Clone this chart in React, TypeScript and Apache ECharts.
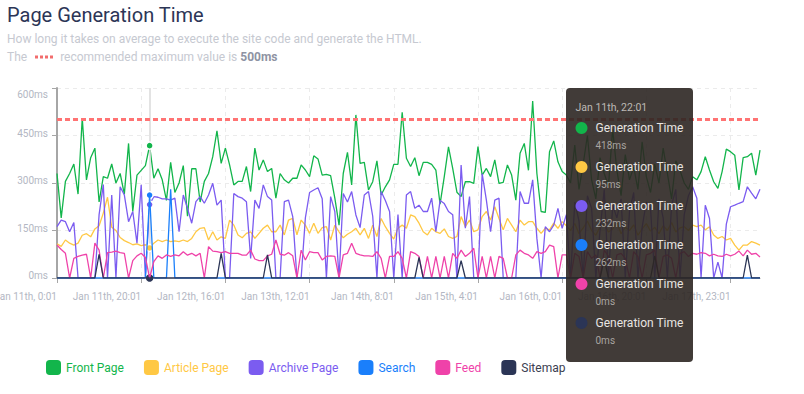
import React, { useEffect, useRef } from "react";
import * as echarts from "echarts";

// ---- data (ms per hourly sample, Jan 11th 0:01 onwards) ----
const frontPage = [
  330, 190, 305, 330, 360, 265, 505, 310, 380, 410, 240, 320, 315, 360, 300, 330, 265, 425, 210, 325,
  340, 355, 418, 315, 345, 310, 245, 365, 270, 300, 355, 195, 345, 345, 240, 305, 330, 383, 465, 362,
  410, 357, 294, 305, 305, 352, 273, 410, 341, 373, 336, 346, 252, 330, 310, 300, 315, 315, 357, 341,
  320, 386, 376, 325, 327, 323, 252, 167, 330, 397, 294, 515, 362, 365, 278, 304, 370, 262, 288, 310,
  359, 359, 523, 378, 352, 380, 323, 365, 365, 359, 341, 233, 320, 414, 346, 271, 257, 304, 304, 299,
  415, 325, 346, 320, 373, 299, 302, 357, 325, 246, 394, 425, 340, 559, 330, 210, 207, 399, 433, 367,
  336, 325, 300, 420, 280, 360, 450, 310, 250, 380, 330, 290, 470, 340, 260, 390, 310, 350, 280, 430,
  320, 270, 360, 300, 410, 330, 250, 370, 340, 300, 280, 320, 310, 336, 383, 341, 304, 283, 336, 407,
  399, 388, 278, 380, 383, 394, 325, 404,
];
const articlePage = [
  108, 100, 120, 110, 104, 110, 135, 140, 130, 155, 165, 205, 255, 160, 150, 128, 118, 112, 105, 108,
  102, 105, 95, 110, 120, 115, 120, 115, 117, 115, 120, 115, 125, 146, 157, 159, 120, 146, 120, 130,
  125, 183, 167, 136, 127, 141, 146, 125, 141, 157, 167, 146, 146, 167, 136, 183, 188, 136, 183, 167,
  141, 173, 141, 159, 162, 120, 167, 146, 127, 138, 146, 157, 136, 157, 125, 167, 131, 188, 162, 141,
  123, 157, 167, 157, 199, 194, 173, 146, 136, 157, 146, 141, 155, 131, 125, 131, 194, 162, 183, 146,
  152, 194, 210, 183, 225, 188, 152, 188, 167, 146, 183, 167, 178, 178, 157, 141, 157, 152, 173, 157,
  178, 165, 150, 172, 140, 158, 180, 150, 135, 162, 170, 145, 155, 175, 140, 160, 150, 168, 135, 155,
  172, 148, 160, 140, 165, 150, 175, 145, 158, 162, 150, 167, 162, 167, 152, 162, 136, 125, 131, 120,
  125, 104, 88, 104, 104, 115, 110, 104,
];
const archivePage = [
  162, 183, 178, 146, 175, 0, 0, 0, 0, 0, 200, 295, 0, 262, 0, 288, 262, 178, 210, 110,
  294, 0, 232, 257, 255, 250, 250, 246, 252, 146, 262, 220, 173, 241, 257, 236, 262, 299, 230, 246,
  0, 0, 267, 257, 252, 241, 62, 246, 220, 294, 257, 246, 0, 0, 241, 246, 194, 0, 0, 190,
  270, 278, 285, 250, 0, 257, 210, 0, 267, 240, 273, 199, 159, 262, 273, 195, 0, 273, 245, 210,
  0, 200, 0, 262, 273, 220, 230, 210, 210, 252, 146, 245, 235, 210, 200, 0, 357, 157, 257, 0,
  0, 330, 246, 146, 246, 252, 0, 0, 0, 0, 273, 236, 236, 310, 125, 0, 162, 146, 167, 220,
  157, 200, 0, 240, 180, 0, 260, 220, 0, 150, 280, 0, 230, 190, 250, 0, 210, 270, 0, 160,
  240, 220, 0, 250, 190, 0, 230, 280, 0, 200, 260, 288, 252, 0, 230, 188, 0, 50, 0, 170,
  225, 230, 236, 241, 288, 268, 250, 280,
];
const search = [
  0, 0, 0, 0, 0, 0, 0, 0, 0, 0, 0, 0, 0, 0, 0, 0, 0, 0, 0, 0,
  0, 0, 262, 0, 0, 0, 0, 280, 0, 0, 0, 0, 0, 0, 0, 0, 0, 0, 0, 0,
  0, 0, 0, 0, 0, 0, 0, 0, 0, 0, 0, 0, 0, 0, 0, 0, 0, 0, 0, 0,
  0, 0, 0, 0, 0, 0, 0, 0, 0, 0, 0, 0, 0, 0, 0, 0, 0, 0, 0, 0,
  0, 0, 0, 0, 0, 0, 0, 0, 0, 0, 0, 0, 0, 0, 0, 0, 0, 0, 0, 0,
  0, 0, 0, 0, 0, 0, 0, 0, 0, 0, 0, 0, 0, 0, 0, 0, 0, 0, 0, 0,
  0, 0, 0, 0, 0, 0, 0, 0, 0, 0, 0, 0, 0, 0, 0, 0, 0, 0, 0, 0,
  0, 0, 0, 0, 0, 0, 0, 0, 0, 0, 0, 0, 0, 0, 0, 0, 0, 0, 0, 0,
  0, 0, 0, 0, 0, 0, 0, 0,
];
const feed = [
  104, 90, 78, 0, 62, 68, 72, 75, 0, 110, 88, 0, 80, 82, 85, 80, 78, 0, 55, 70,
  78, 65, 0, 52, 70, 62, 73, 68, 73, 70, 83, 72, 78, 70, 78, 0, 99, 85, 83, 80,
  83, 78, 78, 78, 72, 72, 88, 60, 55, 55, 70, 75, 120, 75, 72, 80, 70, 0, 88, 57,
  83, 80, 80, 57, 68, 70, 68, 0, 73, 78, 110, 78, 73, 70, 70, 68, 83, 62, 0, 68,
  68, 83, 62, 0, 83, 78, 68, 0, 68, 0, 68, 0, 68, 0, 78, 62, 88, 68, 78, 94,
  0, 68, 0, 68, 0, 68, 62, 0, 0, 73, 88, 78, 73, 62, 83, 78, 83, 104, 99, 0,
  73, 73, 0, 78, 68, 0, 83, 62, 73, 0, 88, 68, 0, 73, 78, 62, 0, 83, 68, 0,
  73, 78, 88, 0, 68, 73, 62, 0, 78, 83, 68, 78, 75, 80, 78, 70, 75, 70, 68, 75,
  70, 75, 85, 70, 88, 75, 78, 66,
];
const sitemap = [
  0, 0, 0, 0, 0, 0, 0, 0, 0, 0, 75, 0, 0, 0, 0, 0, 0, 0, 0, 0,
  0, 0, 0, 0, 0, 0, 0, 0, 0, 0, 0, 0, 0, 0, 0, 0, 0, 0, 0, 78,
  0, 0, 0, 0, 0, 0, 0, 0, 0, 0, 73, 0, 0, 0, 0, 0, 0, 0, 0, 0,
  0, 0, 0, 0, 0, 0, 0, 0, 0, 0, 0, 0, 0, 0, 0, 0, 0, 0, 0, 0,
  0, 0, 0, 0, 0, 0, 65, 0, 0, 0, 0, 0, 0, 0, 0, 0, 55, 0, 0, 0,
  0, 0, 0, 0, 0, 0, 0, 0, 0, 0, 0, 0, 0, 0, 0, 0, 0, 0, 0, 0,
  0, 0, 0, 0, 0, 0, 0, 0, 0, 0, 60, 0, 0, 0, 0, 0, 0, 0, 0, 0,
  0, 0, 70, 0, 0, 0, 0, 0, 0, 0, 0, 0, 0, 0, 0, 0, 0, 0, 0, 0,
  0, 0, 0, 0, 72, 0, 0, 0,
];

const seriesNames = ["Front Page", "Article Page", "Archive Page", "Search", "Feed", "Sitemap"];
const seriesData = [frontPage, articlePage, archivePage, search, feed, sitemap];
const seriesColors = ["#12b54b", "#ffc844", "#7b5cf0", "#1a7ffb", "#ef42a9", "#2b3556"];
const legendTextColors = ["#12b54b", "#ffc844", "#7b5cf0", "#1a7ffb", "#ef42a9", "#3b4050"];

const xTickLabels = [
  "Jan 11th, 0:01", "Jan 11th, 20:01", "Jan 12th, 16:01", "Jan 13th, 12:01", "Jan 14th, 8:01",
  "Jan 15th, 4:01", "Jan 16th, 0:01", "Jan 16th, 20:01", "Jan 17th, 23:01",
];
const tickStep = 20;
const yMax = 600;
const yStep = 150;
const recommendedMax = 500;
const hoverIndex = 22;
const tooltipLabel = "Generation Time";

function buildCategories(n: number) {
  const out: string[] = [];
  for (let i = 0; i < n; i++) {
    const day = 11 + Math.floor(i / 24);
    out.push(`Jan ${day}th, ${i % 24}:01`);
  }
  return out;
}
const categories = buildCategories(frontPage.length);

const FONT = "Roboto, 'Noto Sans', sans-serif";

export default function App() {
  const ref = useRef<HTMLDivElement>(null);

  useEffect(() => {
    if (!ref.current) return;
    const chart = echarts.init(ref.current, undefined, { renderer: "svg" });
    const isTick = (i: number) => i % tickStep === 0;
    const axisGray = "#a6a6a6";
    const labelGray = "#b3b7c3";

    const tipX = 566;
    const tipY = 88;
    const tooltipEls: any[] = [
      {
        type: "rect",
        z: 100,
        shape: { x: tipX, y: tipY, width: 127, height: 274, r: 4 },
        style: { fill: "rgba(44,38,34,0.9)" },
      },
      {
        type: "text",
        z: 101,
        x: 575.5,
        y: 107,
        style: {
          text: categories[hoverIndex],
          fill: "#bdb9b5",
          font: `10.5px ${FONT}`,
          align: "left",
          verticalAlign: "middle",
          textAlign: "left",
          textVerticalAlign: "middle",
        },
      },
    ];
    seriesData.forEach((d, k) => {
      const cy = 128 + k * 39;
      tooltipEls.push({
        type: "circle",
        z: 101,
        shape: { cx: 581.5, cy, r: 6 },
        style: { fill: seriesColors[k] },
      });
      tooltipEls.push({
        type: "text",
        z: 101,
        x: 595.5,
        y: cy,
        style: {
          text: tooltipLabel,
          fill: "#e8e5e2",
          font: `12px ${FONT}`,
          align: "left",
          verticalAlign: "middle",
          textAlign: "left",
          textVerticalAlign: "middle",
        },
      });
      tooltipEls.push({
        type: "text",
        z: 101,
        x: 595.5,
        y: cy + 17,
        style: {
          text: `${d[hoverIndex]}ms`,
          fill: "#a9a5a1",
          font: `10px ${FONT}`,
          align: "left",
          verticalAlign: "middle",
          textAlign: "left",
          textVerticalAlign: "middle",
        },
      });
    });

    const option: any = {
      animation: false,
      textStyle: { fontFamily: FONT },
      grid: { left: 57, right: 44, top: 88, bottom: 116, containLabel: false, outerBoundsMode: "none" },
      legend: {
        left: 41,
        top: 355,
        itemWidth: 15,
        itemHeight: 15,
        itemGap: 20,
        icon: "roundRect",
        textStyle: { fontSize: 12, fontFamily: FONT },
        data: seriesNames.map((n, k) => ({ name: n, textStyle: { color: legendTextColors[k] } })),
      },
      xAxis: {
        type: "category",
        boundaryGap: false,
        data: categories,
        axisLine: { show: true, lineStyle: { color: axisGray } },
        axisTick: { show: true, interval: (i: number) => isTick(i), length: 5, lineStyle: { color: axisGray } },
        axisLabel: {
          interval: (i: number) => isTick(i),
          formatter: (_v: string, i: number) => xTickLabels[i / tickStep] ?? "",
          align: "right",
          color: labelGray,
          fontSize: 10,
          margin: 13,
        },
        splitLine: { show: true, interval: (i: number) => isTick(i), lineStyle: { color: "#ebebeb", type: [4, 4] } },
      },
      yAxis: {
        type: "value",
        min: 0,
        max: yMax,
        interval: yStep,
        axisLine: { show: true, lineStyle: { color: axisGray, width: 2 } },
        axisTick: { show: true, length: 5, lineStyle: { color: axisGray } },
        axisLabel: {
          color: labelGray,
          fontSize: 10,
          margin: 9,
          padding: [0, 0, 5, 0],
          formatter: (v: number) => (v === yMax ? `{top|${v}ms}` : `${v}ms`),
          rich: { top: { padding: [18, 0, 0, 0], fontSize: 10, color: labelGray } },
        },
        splitLine: { show: true, lineStyle: { color: "#ebebeb", type: [4, 4] } },
      },
      series: seriesData.map((data, k) => ({
        name: seriesNames[k],
        type: "line",
        data,
        showSymbol: false,
        symbol: "circle",
        z: 2 + k,
        lineStyle: { width: 1.3, color: seriesColors[k] },
        itemStyle: { color: seriesColors[k] },
        emphasis: { disabled: true },
        markPoint: {
          silent: true,
          symbol: "circle",
          symbolSize: k === 5 ? 9 : 7,
          label: { show: false },
          itemStyle: { color: seriesColors[k], borderColor: "#ffffff", borderWidth: 1.5 },
          data: [{ coord: [categories[hoverIndex], data[hoverIndex]] }],
        },
        markLine:
          k === 0
            ? {
                silent: true,
                symbol: ["none", "none"],
                label: { show: false },
                data: [
                  { xAxis: categories[hoverIndex], lineStyle: { color: "#dadada", width: 1.5, type: "solid" } },
                  { yAxis: recommendedMax, lineStyle: { color: "#ff7373", width: 3, type: [5, 3] } },
                ],
              }
            : undefined,
      })),
      graphic: [
        {
          type: "text",
          x: 7,
          y: 15,
          style: {
            text: "Page Generation Time",
            fill: "#2c3556",
            font: `400 20px ${FONT}`,
            align: "left",
            verticalAlign: "middle",
            textAlign: "left",
            textVerticalAlign: "middle",
          },
        },
        {
          type: "text",
          x: 7,
          y: 39,
          style: {
            text: "How long it takes on average to execute the site code and generate the HTML.",
            fill: "#c6c9d1",
            font: `12px ${FONT}`,
            align: "left",
            verticalAlign: "middle",
            textAlign: "left",
            textVerticalAlign: "middle",
          },
        },
        {
          type: "text",
          x: 7,
          y: 57,
          style: {
            text: `{a|The}{g| }{a|recommended maximum value is }{b|${recommendedMax}ms}`,
            font: `12px ${FONT}`,
            fill: "#c6c9d1",
            align: "left",
            verticalAlign: "middle",
            textAlign: "left",
            textVerticalAlign: "middle",
            rich: {
              a: { fill: "#c6c9d1", color: "#c6c9d1", fontSize: 12, fontFamily: FONT },
              g: { width: 33, fontSize: 12 },
              b: { fill: "#8e93a3", color: "#8e93a3", fontSize: 12, fontWeight: "bold", fontFamily: FONT },
            },
          },
        },
        {
          type: "line",
          shape: { x1: 35, y1: 57, x2: 54, y2: 57 },
          style: { stroke: "#f26d6d", lineWidth: 3, lineDash: [3, 2] },
        },
        ...tooltipEls,
      ],
    };
    chart.setOption(option);
    return () => chart.dispose();
  }, []);

  return (
    <div
      ref={ref}
      style={{ position: "fixed", left: 0, top: 0, width: 804, height: 394, background: "#ffffff" }}
    />
  );
}
